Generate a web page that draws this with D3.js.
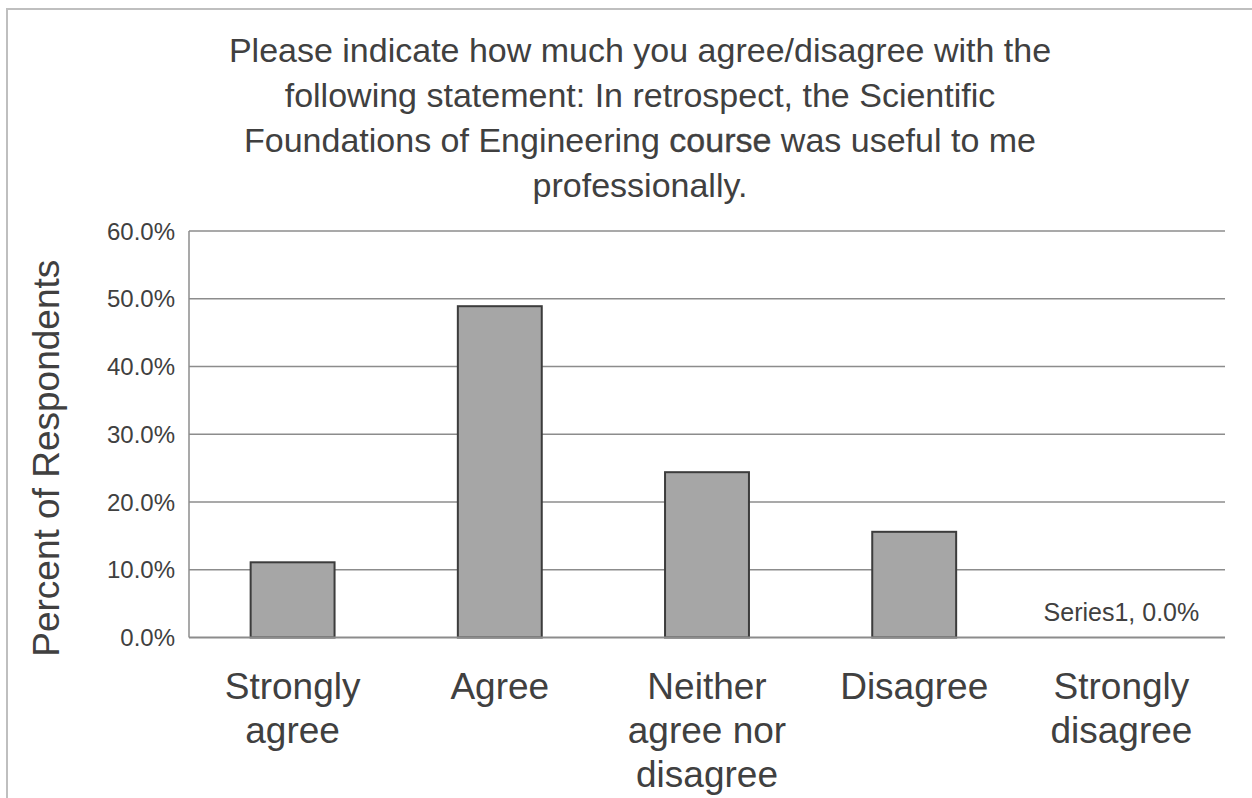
<!DOCTYPE html>
<html>
<head>
<meta charset="utf-8">
<script src="https://cdn.jsdelivr.net/npm/d3@7"></script>
<style>
  html, body { margin: 0; padding: 0; background: #ffffff; }
  svg { display: block; }
  text { font-family: "Liberation Sans", Arial, sans-serif; fill: #404040; }
</style>
</head>
<body>
<svg id="chart" width="1252" height="798"></svg>
<script>
// Survey responses (share of 45 respondents)
const categories = [
  ["Strongly", "agree"],
  ["Agree"],
  ["Neither", "agree nor", "disagree"],
  ["Disagree"],
  ["Strongly", "disagree"]
];
const values = [0.111, 0.489, 0.244, 0.156, 0.0];
const yTicks = [0, 0.1, 0.2, 0.3, 0.4, 0.5, 0.6];
const titleLines = [
  ["Please indicate how much you agree/disagree with the"],
  ["following statement: In retrospect, the Scientific"],
  ["Foundations of Engineering ", "course", " was useful to me"],
  ["professionally."]
];
const yTitle = "Percent of Respondents";
const seriesName = "Series1";

const svg = d3.select("#chart");
const W = 1252, H = 798;
const margin = { left: 189, right: 27, top: 231, bottom: 160.5 };

// outer chart frame (runs off the right and bottom edges)
svg.append("rect")
  .attr("x", 7).attr("y", 9)
  .attr("width", W).attr("height", H)
  .attr("fill", "none")
  .attr("stroke", "#bfbfbf")
  .attr("stroke-width", 2);

const keys = categories.map((c, i) => i);
const x = d3.scaleBand()
  .domain(keys)
  .range([margin.left, W - margin.right])
  .paddingInner(0.595)
  .paddingOuter(0.2975);

const y = d3.scaleLinear()
  .domain([0, 0.6])
  .range([H - margin.bottom, margin.top]);

const fmt = d3.format(".1%");

// horizontal gridlines
svg.append("g")
  .selectAll("line")
  .data(yTicks.filter(t => t > 0))
  .join("line")
  .attr("x1", margin.left).attr("x2", W - margin.right)
  .attr("y1", d => y(d)).attr("y2", d => y(d))
  .attr("stroke", "#8c8c8c")
  .attr("stroke-width", 1.5);

// bars
svg.append("g")
  .selectAll("rect")
  .data(values)
  .join("rect")
  .attr("x", (d, i) => x(i))
  .attr("width", x.bandwidth())
  .attr("y", d => y(d))
  .attr("height", d => y(0) - y(d))
  .attr("fill", "#a6a6a6")
  .attr("stroke", "#3c3c3c")
  .attr("stroke-width", 2);

// value axis line and category baseline
svg.append("line")
  .attr("x1", margin.left).attr("x2", margin.left)
  .attr("y1", y(0.6)).attr("y2", y(0))
  .attr("stroke", "#8c8c8c").attr("stroke-width", 1.5);
svg.append("line")
  .attr("x1", margin.left).attr("x2", W - margin.right)
  .attr("y1", y(0)).attr("y2", y(0))
  .attr("stroke", "#8c8c8c").attr("stroke-width", 2);

// y tick labels
svg.append("g")
  .selectAll("text")
  .data(yTicks)
  .join("text")
  .attr("x", 175)
  .attr("y", d => y(d))
  .attr("dy", "0.36em")
  .attr("text-anchor", "end")
  .style("font-size", "24px")
  .text(d => fmt(d));

// y axis title
svg.append("text")
  .attr("transform", `translate(59, ${(y(0) + y(0.6)) / 2 + 24}) rotate(-90)`)
  .attr("text-anchor", "middle")
  .style("font-size", "37px")
  .text(yTitle);

// category labels
const xl = svg.append("g")
  .selectAll("text")
  .data(categories)
  .join("text")
  .attr("text-anchor", "middle")
  .style("font-size", "37px");
xl.selectAll("tspan")
  .data((d, i) => d.map(s => ({ s, i })))
  .join("tspan")
  .attr("x", d => x(d.i) + x.bandwidth() / 2)
  .attr("y", (d, j) => 699 + j * 44)
  .text(d => d.s);

// data label for the empty category
values.forEach((v, i) => {
  if (v === 0) {
    svg.append("text")
      .attr("x", x(i) + x.bandwidth() / 2)
      .attr("y", 621)
      .attr("text-anchor", "middle")
      .style("font-size", "25px")
      .text(`${seriesName}, ${fmt(v)}`);
  }
});

// chart title
const title = svg.append("text")
  .attr("text-anchor", "middle")
  .style("font-size", "34px");
titleLines.forEach((parts, li) => {
  parts.forEach((p, pi) => {
    const t = title.append("tspan").text(p);
    if (pi === 0) t.attr("x", 640).attr("y", 62 + li * 45);
    if (p === "course") t.style("stroke", "#404040").style("stroke-width", 0.4);
  });
});
</script>
</body>
</html>
